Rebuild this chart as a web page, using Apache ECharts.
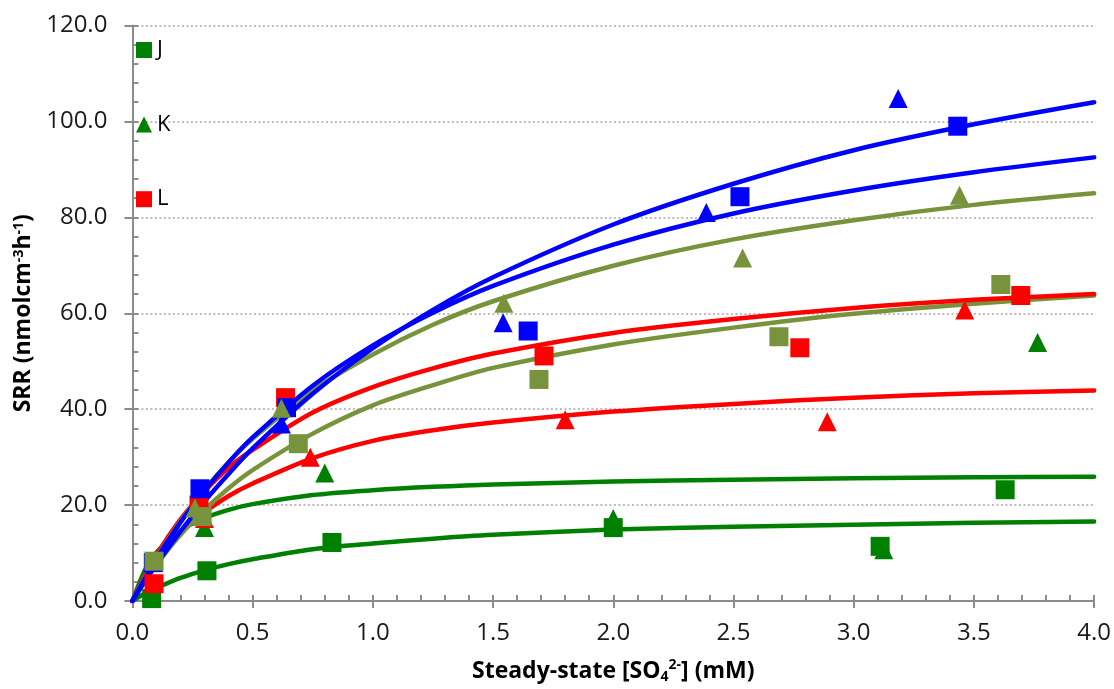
<!DOCTYPE html>
<html>
<head>
<meta charset="utf-8">
<script src="https://cdn.jsdelivr.net/npm/echarts@6/dist/echarts.min.js"></script>
<style>
html,body{margin:0;padding:0;background:#fff;overflow:hidden;}
#chart{width:1114px;height:689px;}
</style>
</head>
<body>
<div id="chart"></div>
<script>
// ---- data ----
var xTicks = [0.0, 0.5, 1.0, 1.5, 2.0, 2.5, 3.0, 3.5, 4.0];
var yTicks = [0, 20, 40, 60, 80, 100, 120];

// measured points [x, y]
var greenSquares   = [[0.08, 0.5], [0.31, 6.3], [0.83, 12.2], [2.0, 15.3], [3.11, 11.4], [3.63, 23.2]];
var greenTriangles = [[0.30, 15.3], [0.80, 26.7], [2.0, 17.2], [3.125, 10.7], [3.765, 53.9]];
var redSquares     = [[0.09, 3.6], [0.277, 20.0], [0.637, 42.4], [1.712, 51.1], [2.776, 52.8], [3.695, 63.7]];
var redTriangles   = [[0.30, 17.2], [0.74, 30.0], [1.80, 37.8], [2.89, 37.4], [3.462, 60.7]];
var blueSquares    = [[0.087, 8.0], [0.281, 23.4], [0.641, 40.3], [1.646, 56.3], [2.527, 84.3], [3.433, 99.0]];
var blueTriangles  = [[0.62, 36.9], [1.542, 58.0], [2.387, 81.0], [3.185, 104.8]];
var oliveSquares   = [[0.09, 8.3], [0.29, 17.6], [0.69, 32.8], [1.691, 46.2], [2.689, 55.1], [3.612, 66.0]];
var oliveTriangles = [[0.26, 19.4], [0.62, 40.2], [1.545, 62.1], [2.538, 71.5], [3.44, 84.6]];

// fitted curves, read at these x positions
var curveX        = [0, 0.05, 0.1, 0.2, 0.3, 0.4, 0.5, 0.75, 1.0, 1.25, 1.5, 2.0, 2.5, 3.0, 3.5, 4.0];
var blueUpper     = [0, 3.9, 7.6, 14.5, 20.8, 26.5, 31.8, 43.2, 52.7, 60.7, 67.5, 78.5, 87.0, 94.0, 99.4, 104.0];
var blueLower     = [0, 4.5, 8.8, 16.4, 23.0, 28.9, 34.1, 44.9, 53.3, 60.1, 65.7, 74.3, 80.8, 85.6, 89.4, 92.5];
var oliveUpper    = [0, 4.7, 9.0, 16.6, 23.2, 28.9, 33.8, 43.9, 51.4, 57.6, 62.5, 69.9, 75.4, 79.4, 82.6, 85.0];
var redUpper      = [0, 5.1, 9.6, 17.0, 22.9, 27.8, 31.5, 39.3, 44.6, 48.5, 51.6, 55.9, 58.8, 61.1, 62.8, 64.0];
var oliveLower    = [0, 4.0, 7.6, 13.8, 19.0, 23.5, 27.3, 34.9, 40.8, 45.0, 48.6, 53.5, 57.0, 59.9, 62.0, 63.7];
var redLower      = [0, 4.5, 8.2, 14.1, 18.5, 21.9, 24.5, 29.8, 33.4, 35.6, 37.2, 39.5, 41.1, 42.4, 43.3, 43.9];
var greenUpper    = [0, 6.2, 10.1, 14.7, 17.3, 19.0, 20.2, 22.1, 23.1, 23.8, 24.3, 24.9, 25.3, 25.6, 25.8, 25.9];
var greenLower    = [0, 1.5, 2.7, 4.8, 6.4, 7.7, 8.7, 10.8, 12.0, 13.0, 13.8, 14.9, 15.5, 15.9, 16.3, 16.6];

// ---- styling ----
var C_GREEN = '#008000', C_RED = '#FF0000', C_BLUE = '#0000FF', C_OLIVE = '#77933C';
var FONT = '"Open Sans", "Liberation Sans", sans-serif';
var AXIS_COLOR = '#8c8c8c';
var TRI_ICON = 'path://M0,16 L8,0 L16,16 Z';

function pairs(ys) { return curveX.map(function (x, i) { return [x, ys[i]]; }); }

function curve(ys, color) {
  return {
    type: 'line', data: pairs(ys), showSymbol: false, symbol: 'none',
    smooth: 0.3, silent: true, z: 2,
    lineStyle: { color: color, width: 4.5, cap: 'round' }, itemStyle: { color: color }
  };
}
function points(name, data, color, sym, size) {
  return {
    name: name, type: 'scatter', data: data, symbol: sym, symbolSize: size,
    itemStyle: { color: color, opacity: 1 }, clip: false, z: 5, silent: true
  };
}

var chart = echarts.init(document.getElementById('chart'), null, { renderer: 'canvas' });

chart.setOption({
  animation: false,
  backgroundColor: '#ffffff',
  grid: { left: 132.4, width: 962.4, top: 25.5, height: 581.8, containLabel: false },
  legend: {
    orient: 'vertical', left: 136, top: 39, padding: 0,
    itemWidth: 16, itemHeight: 16, itemGap: 52.6,
    selectedMode: false,
    textStyle: { fontFamily: FONT, fontSize: 22, color: '#000', lineHeight: 18 },
    data: [{ name: 'J', icon: 'rect' }, { name: 'K', icon: TRI_ICON }, { name: 'L', icon: 'rect' }]
  },
  xAxis: [{
    type: 'value', min: 0, max: 4, interval: 0.5, position: 'bottom',
    name: 'Steady-state [SO{sub|4}{sup|2-}] (mM)', nameLocation: 'middle', nameGap: 57,
    nameTextStyle: {
      fontFamily: FONT, fontSize: 23, fontWeight: 'bold', color: '#000',
      rich: {
        sub: { fontFamily: FONT, fontSize: 14, fontWeight: 'bold', color: '#000', verticalAlign: 'bottom', padding: [12, 0, 0, 0] },
        sup: { fontFamily: FONT, fontSize: 14, fontWeight: 'bold', color: '#000', verticalAlign: 'top', padding: [0, 0, 10, 0] }
      }
    },
    axisLine: { show: true, onZero: false, lineStyle: { color: AXIS_COLOR, width: 2 } },
    axisTick: { show: true, inside: false, length: 7, lineStyle: { color: AXIS_COLOR, width: 2 } },
    minorTick: { show: false },
    axisLabel: { margin: 20, fontFamily: FONT, fontSize: 24, color: '#1a1a1a', formatter: function (v) { return v.toFixed(1); } },
    splitLine: { show: false }
  }, {
    type: 'value', min: 0, max: 4, interval: 0.5, position: 'bottom', offset: 0,
    axisLine: { show: false },
    axisTick: { show: true, inside: true, length: 6, lineStyle: { color: AXIS_COLOR, width: 2 } },
    minorTick: { show: true, splitNumber: 5, length: 6, lineStyle: { color: AXIS_COLOR, width: 2 } },
    axisLabel: { show: false },
    splitLine: { show: false }
  }],
  yAxis: [{
    type: 'value', min: 0, max: 120, interval: 20, position: 'left',
    name: 'SRR (nmolcm{sup|-3}h{sup|-1})', nameLocation: 'middle', nameGap: 94, nameRotate: 90,
    nameTextStyle: {
      fontFamily: FONT, fontSize: 23, fontWeight: 'bold', color: '#000',
      rich: {
        sup: { fontFamily: FONT, fontSize: 14, fontWeight: 'bold', color: '#000', verticalAlign: 'top', padding: [0, 0, 10, 0] }
      }
    },
    axisLine: { show: true, onZero: false, lineStyle: { color: AXIS_COLOR, width: 2 } },
    axisTick: { show: true, inside: false, length: 8, lineStyle: { color: AXIS_COLOR, width: 2 } },
    axisLabel: { margin: 25, fontFamily: FONT, fontSize: 24, color: '#1a1a1a', formatter: function (v) { return v.toFixed(1); } },
    splitLine: { show: true, lineStyle: { color: '#a6a6a6', width: 1.5, type: [2, 2.5] } }
  }, {
    type: 'value', min: 0, max: 120, interval: 20, position: 'left', offset: 0,
    axisLine: { show: false },
    axisTick: { show: true, inside: true, length: 6, lineStyle: { color: AXIS_COLOR, width: 2 } },
    minorTick: { show: true, splitNumber: 5, length: 6, lineStyle: { color: AXIS_COLOR, width: 2 } },
    axisLabel: { show: false },
    splitLine: { show: false }
  }],
  series: [
    curve(greenLower, C_GREEN),
    curve(greenUpper, C_GREEN),
    curve(redLower, C_RED),
    curve(oliveLower, C_OLIVE),
    curve(redUpper, C_RED),
    curve(oliveUpper, C_OLIVE),
    curve(blueLower, C_BLUE),
    curve(blueUpper, C_BLUE),
    points('K', greenTriangles, C_GREEN, 'triangle', 19),
    points('J', greenSquares, C_GREEN, 'rect', 19),
    points('redTri', redTriangles, C_RED, 'triangle', 19),
    points('L', redSquares, C_RED, 'rect', 19),
    points('blueTri', blueTriangles, C_BLUE, 'triangle', 19),
    points('blueSq', blueSquares, C_BLUE, 'rect', 19),
    points('oliveTri', oliveTriangles, C_OLIVE, 'triangle', 19),
    points('oliveSq', oliveSquares, C_OLIVE, 'rect', 19)
  ]
});
</script>
</body>
</html>
